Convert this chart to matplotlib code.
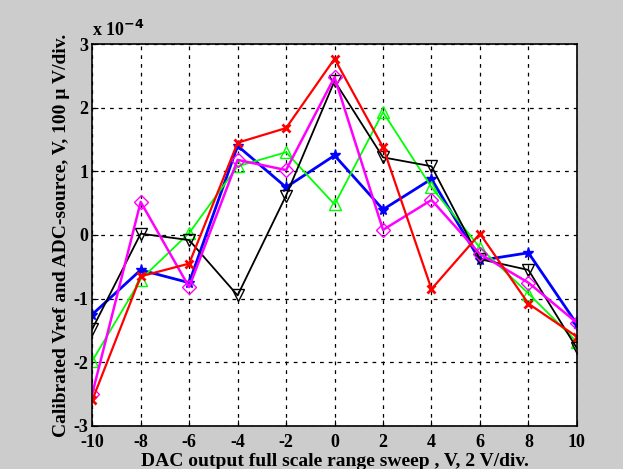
import matplotlib
matplotlib.use("Agg")
import matplotlib.pyplot as plt

# DAC sweep points, V
x = [-10, -8, -6, -4, -2, 0, 2, 4, 6, 8, 10]

# deviations in units of 1e-4 V
blue = [-1.25, -0.55, -0.75, 1.40, 0.75, 1.25, 0.40, 0.88, -0.40, -0.28, -1.40]
red = [-2.60, -0.65, -0.45, 1.45, 1.68, 2.77, 1.38, -0.85, 0.02, -1.08, -1.60]
green = [-1.98, -0.70, 0.03, 1.08, 1.30, 0.48, 1.93, 0.75, -0.20, -0.92, -1.68]
black = [-1.48, 0.02, -0.08, -0.95, 0.62, 2.42, 1.22, 1.08, -0.38, -0.55, -1.78]
magenta = [-2.50, 0.52, -0.82, 1.18, 1.02, 2.48, 0.08, 0.55, -0.30, -0.75, -1.38]

xticks = [-10, -8, -6, -4, -2, 0, 2, 4, 6, 8, 10]
yticks = [-3, -2, -1, 0, 1, 2, 3]

plt.rcParams['font.family'] = ['Liberation Serif', 'DejaVu Serif']
plt.rcParams['font.weight'] = 'bold'
plt.rcParams['axes.unicode_minus'] = False

fig = plt.figure(figsize=(6.23, 4.69), dpi=100, facecolor='#cccccc')
ax = fig.add_axes([0.148, 0.092, 0.778, 0.814])

ax.plot(x, blue, color='blue', linewidth=2, marker='*', markersize=8)
ax.plot(x, green, color='#00ff00', linewidth=1.3, marker='^', markersize=8,
        markerfacecolor='none')
ax.plot(x, black, color='black', linewidth=1.3, marker='v', markersize=9,
        markerfacecolor='none')
ax.plot(x, magenta, color='magenta', linewidth=1.8, marker='D', markersize=7,
        markerfacecolor='none')
ax.plot(x, red, color='red', linewidth=1.6, marker='x', markersize=6,
        markeredgewidth=2)

ax.set_xlim(-10, 10)
ax.set_ylim(-3, 3)
ax.set_xticks(xticks)
ax.set_yticks(yticks)
ax.tick_params(direction='in', labelsize=13, length=4)
ax.tick_params(axis='x', pad=6)
ax.tick_params(axis='y', pad=3)
for lab in ax.get_xticklabels() + ax.get_yticklabels():
    lab.set_fontweight('bold')
ax.grid(True, color='black', linestyle=(0, (3, 4)), linewidth=0.9)
for s in ax.spines.values():
    s.set_linewidth(1.2)

ax.set_xlabel('DAC output full scale range sweep , V, 2 V/div.', fontsize=14,
              fontweight='bold', labelpad=1)
ax.set_ylabel('Calibrated Vref and ADC-source, V, 100 \u00b5 V/div.', fontsize=14,
              fontweight='bold', labelpad=2)
ax.text(0.0, 1.012, 'x 10$^{-4}$', transform=ax.transAxes, fontsize=13,
        fontweight='bold', ha='left', va='bottom')

fig.savefig('out.png', dpi=100, facecolor=fig.get_facecolor())
